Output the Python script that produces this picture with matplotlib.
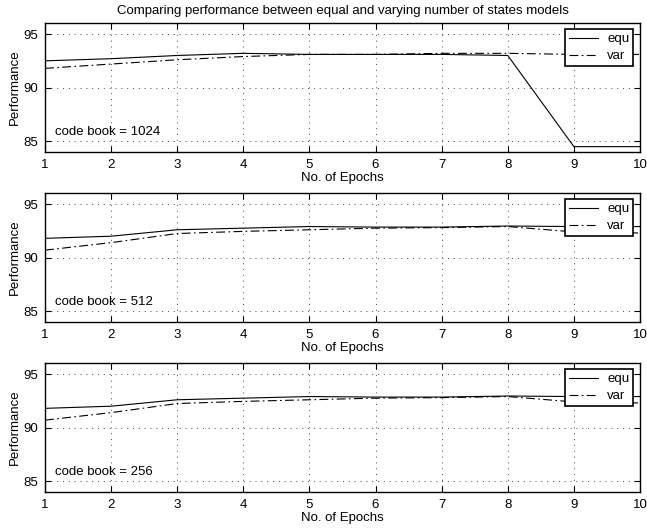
import numpy as np
import matplotlib
matplotlib.use('Agg')
import matplotlib.pyplot as plt

plt.rcParams['font.family'] = ['Liberation Sans', 'DejaVu Sans']

epochs = [1, 2, 3, 4, 5, 6, 7, 8, 9, 10]

# code book = 1024
equ_1024 = [92.5, 92.7, 93.0, 93.2, 93.1, 93.1, 93.1, 93.0, 84.5, 84.5]
var_1024 = [91.8, 92.2, 92.6, 92.9, 93.1, 93.1, 93.2, 93.2, 93.1, 93.1]
# code book = 512
equ_512 = [91.8, 92.0, 92.6, 92.75, 92.9, 92.85, 92.85, 92.95, 92.9, 92.9]
var_512 = [90.7, 91.4, 92.25, 92.45, 92.6, 92.75, 92.8, 92.9, 92.4, 92.3]
# code book = 256
equ_256 = [91.8, 92.0, 92.6, 92.75, 92.9, 92.85, 92.85, 92.95, 92.9, 92.9]
var_256 = [90.7, 91.4, 92.25, 92.45, 92.6, 92.75, 92.8, 92.9, 92.4, 92.3]

codebooks = ['1024', '512', '256']
equ_all = [equ_1024, equ_512, equ_256]
var_all = [var_1024, var_512, var_256]

fig = plt.figure(figsize=(6.47, 5.29), dpi=100)

W, H = 647.0, 529.0
left, right = 45, 640
tops = [23.3, 193.3, 363.3]
height = 128.7
fs = 9.5

for i in range(3):
    top = tops[i]
    ax = fig.add_axes([left / W, 1 - (top + height) / H, (right - left) / W, height / H])
    ax.plot(epochs, equ_all[i], color='black', linestyle='-', linewidth=0.8, label='equ')
    ax.plot(epochs, var_all[i], color='black', linestyle=(0, (8, 3, 1.5, 3)), linewidth=0.8, label='var')
    ax.set_xlim(1, 10)
    ax.set_ylim(84, 96)
    ax.set_xticks(epochs)
    ax.set_yticks([85, 90, 95])
    ax.grid(True, linestyle=(0, (1, 5)), color='0.3', linewidth=0.7)
    ax.tick_params(direction='in', top=True, right=True, length=4, width=0.8,
                   labelsize=fs, pad=5)
    for s in ax.spines.values():
        s.set_linewidth(1.0)
    ax.set_xlabel('No. of Epochs', fontsize=fs, labelpad=1)
    ax.set_ylabel('Performance', fontsize=fs, labelpad=2)
    ax.text(1.15, 85.85, 'code book = ' + codebooks[i], fontsize=fs, va='center', ha='left')
    leg = ax.legend(loc='upper right', bbox_to_anchor=(0.989, 0.955), borderaxespad=0,
                    fancybox=False, edgecolor='black', framealpha=1, fontsize=fs,
                    handlelength=2.2, handletextpad=0.7, borderpad=0.3,
                    labelspacing=0.35)
    leg.get_frame().set_linewidth(1.2)
    if i == 0:
        ax.set_title('Comparing performance between equal and varying number of states models',
                     fontsize=fs, pad=7)

fig.savefig('out.png', dpi=100)
